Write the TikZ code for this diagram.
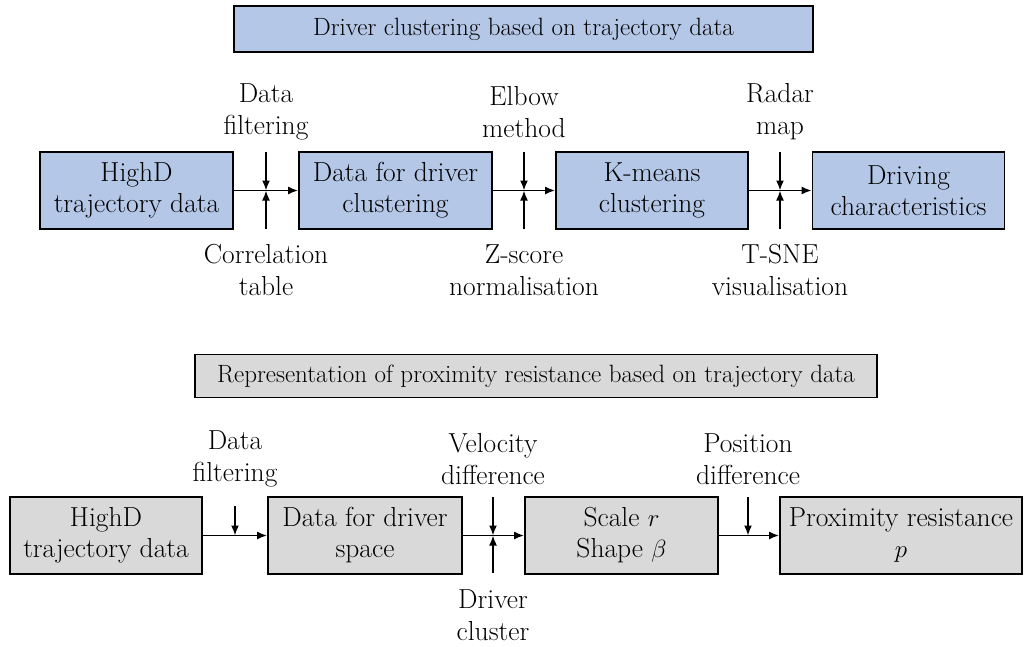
\documentclass[tikz,border=0pt]{standalone}
\usepackage{fontspec}
\usetikzlibrary{arrows.meta}
\definecolor{boxblue}{HTML}{B4C7E7}
\definecolor{boxgray}{HTML}{D9D9D9}
\tikzset{
  stagebox/.style={draw=black, line width=1.8pt, inner sep=0pt, align=center,
    font=\fontsize{27.5}{31}\selectfont},
  bluebox/.style={stagebox, fill=boxblue},
  graybox/.style={stagebox, fill=boxgray},
  titlebox/.style={draw=black, line width=1.8pt, inner sep=0pt,
    font=\fontsize{25}{28}\selectfont},
  lbl/.style={align=center, inner sep=0pt, font=\fontsize{27.5}{32}\selectfont},
  flow/.style={line width=1.7pt, -{Latex[length=10pt,width=8pt]}},
}
\begin{document}
\begin{tikzpicture}[x=1pt, y=-1pt]
\useasboundingbox (0,0) rectangle (1024,646);

% ---------- upper section: driver clustering ----------
\node[titlebox, fill=boxblue, minimum width=579pt, minimum height=46pt]
  (t1) at (523.5,29) {Driver clustering based on trajectory data};

\node[bluebox, minimum width=193pt, minimum height=77pt] (b1) at (136.5,190.5) {HighD\\trajectory data};
\node[bluebox, minimum width=193pt, minimum height=77pt] (b2) at (395.5,190.5) {Data for driver\\clustering};
\node[bluebox, minimum width=192pt, minimum height=77pt] (b3) at (652,190.5) {K-means\\clustering};
\node[bluebox, minimum width=192pt, minimum height=77pt] (b4) at (908.5,190.5) {Driving\\characteristics};

\draw[flow] (b1.east) -- (b2.west);
\draw[flow] (b2.east) -- (b3.west);
\draw[flow] (b3.east) -- (b4.west);

% side inputs on the upper chain
\foreach \x/\n in {266/1, 524/2, 780/3} {
  \coordinate (ja\n) at (\x,190.5);
  \coordinate (ua\n) at (\x,152);
  \coordinate (da\n) at (\x,229);
  \draw[flow] (ua\n) -- (ja\n);
  \draw[flow] (da\n) -- (ja\n);
}
\node[lbl] (la1) at (266,112) {Data\\filtering};
\node[lbl] (la2) at (524,112) {Elbow\\method};
\node[lbl] (la3) at (780,112) {Radar\\map};
\node[lbl] (lb1) at (266,270) {Correlation\\table};
\node[lbl] (lb2) at (524,270) {Z-score\\normalisation};
\node[lbl] (lb3) at (780,270) {T-SNE\\visualisation};

% ---------- lower section: proximity resistance ----------
\node[titlebox, fill=boxgray, minimum width=682pt, minimum height=43pt]
  (t2) at (536,376) {Representation of proximity resistance based on trajectory data};

\node[graybox, minimum width=192pt, minimum height=77pt] (c1) at (106,535.5) {HighD\\trajectory data};
\node[graybox, minimum width=194pt, minimum height=77pt] (c2) at (365,535.5) {Data for driver\\space};
\node[graybox, minimum width=193pt, minimum height=77pt] (c3) at (621.5,535.5) {Scale $r$\\Shape $\beta$};
\node[graybox, minimum width=242pt, minimum height=77pt] (c4) at (901,535.5) {Proximity resistance\\$p$};

\draw[flow] (c1.east) -- (c2.west);
\draw[flow] (c2.east) -- (c3.west);
\draw[flow] (c3.east) -- (c4.west);

\coordinate (jb1) at (235,535.5);
\coordinate (ub1) at (235,506);
\coordinate (jb2) at (493,535.5);
\coordinate (ub2) at (493,497);
\coordinate (db2) at (493,573);
\coordinate (jb3) at (748,535.5);
\coordinate (ub3) at (748,497);
\draw[flow] (ub1) -- (jb1);
\draw[flow] (ub2) -- (jb2);
\draw[flow] (db2) -- (jb2);
\draw[flow] (ub3) -- (jb3);

\node[lbl] (lc1) at (235,459) {Data\\filtering};
\node[lbl] (lc2) at (493,459) {Velocity\\difference};
\node[lbl] (lc3) at (748,459) {Position\\difference};
\node[lbl] (lc4) at (493,615) {Driver\\cluster};
\end{tikzpicture}
\end{document}
